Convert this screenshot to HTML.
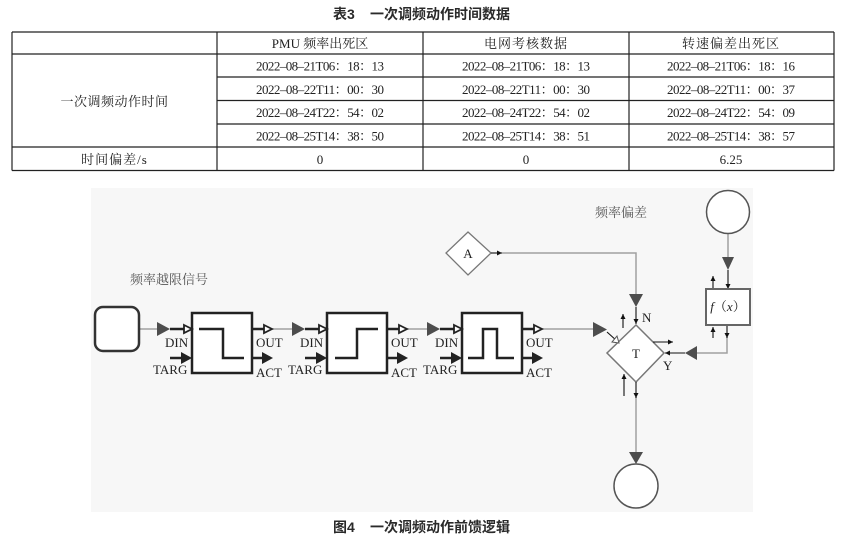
<!DOCTYPE html>
<html><head><meta charset="utf-8"><style>
html,body{margin:0;padding:0;background:#fff;}
svg{display:block;}
.t{font-family:"Liberation Serif","Noto Serif CJK SC",serif;font-size:13px;fill:#222;}
.cap{font-family:"Liberation Sans","Noto Sans CJK SC",sans-serif;font-size:14px;font-weight:bold;fill:#2a2a2a;}
.lbl{font-family:"Liberation Serif","Noto Serif CJK SC",serif;font-size:13px;fill:#222;}
.cn{font-family:"Liberation Serif","Noto Serif CJK SC",serif;font-size:13px;fill:#555;}
</style></head><body>
<svg width="844" height="546" viewBox="0 0 844 546" xmlns="http://www.w3.org/2000/svg">
<defs>
<marker id="sa" viewBox="0 0 6 6" refX="6" refY="3" markerWidth="5" markerHeight="5" orient="auto" markerUnits="userSpaceOnUse"><path d="M0,0 L6,3 L0,6 Z" fill="#111"/></marker>
</defs>
<!-- Title -->
<text class="cap" x="333" y="19">表3<tspan x="370">一次调频动作时间数据</tspan></text>
<!-- Table -->
<g stroke="#222" stroke-width="1.2">
<line x1="12" y1="32" x2="834" y2="32"/>
<line x1="12" y1="54" x2="834" y2="54"/>
<line x1="217" y1="77" x2="834" y2="77"/>
<line x1="217" y1="100.5" x2="834" y2="100.5"/>
<line x1="217" y1="124" x2="834" y2="124"/>
<line x1="12" y1="147" x2="834" y2="147"/>
<line x1="12" y1="170.5" x2="834" y2="170.5"/>
<line x1="12" y1="32" x2="12" y2="170.5"/>
<line x1="217" y1="32" x2="217" y2="170.5"/>
<line x1="423" y1="32" x2="423" y2="170.5"/>
<line x1="629" y1="32" x2="629" y2="170.5"/>
<line x1="834" y1="32" x2="834" y2="170.5"/>
</g>
<g class="t" text-anchor="middle">
<text x="320" y="48">PMU 频率出死区</text>
<text x="526" y="48" letter-spacing="1">电网考核数据</text>
<text x="731" y="48" letter-spacing="1">转速偏差出死区</text>
<text x="114.5" y="106" letter-spacing="0.5">一次调频动作时间</text>
<text x="114.5" y="164" letter-spacing="1">时间偏差/s</text>
<text x="320" y="164">0</text>
<text x="526" y="164">0</text>
<text x="731" y="164">6.25</text>
</g>
<g class="t">
<text x="256" y="70.5" textLength="128" lengthAdjust="spacing">2022–08–21T06：18：13</text>
<text x="256" y="94" textLength="128" lengthAdjust="spacing">2022–08–22T11：00：30</text>
<text x="256" y="117" textLength="128" lengthAdjust="spacing">2022–08–24T22：54：02</text>
<text x="256" y="140.5" textLength="128" lengthAdjust="spacing">2022–08–25T14：38：50</text>
<text x="462" y="70.5" textLength="128" lengthAdjust="spacing">2022–08–21T06：18：13</text>
<text x="462" y="94" textLength="128" lengthAdjust="spacing">2022–08–22T11：00：30</text>
<text x="462" y="117" textLength="128" lengthAdjust="spacing">2022–08–24T22：54：02</text>
<text x="462" y="140.5" textLength="128" lengthAdjust="spacing">2022–08–25T14：38：51</text>
<text x="667" y="70.5" textLength="128" lengthAdjust="spacing">2022–08–21T06：18：16</text>
<text x="667" y="94" textLength="128" lengthAdjust="spacing">2022–08–22T11：00：37</text>
<text x="667" y="117" textLength="128" lengthAdjust="spacing">2022–08–24T22：54：09</text>
<text x="667" y="140.5" textLength="128" lengthAdjust="spacing">2022–08–25T14：38：57</text>
</g>

<!-- Diagram background -->
<rect x="91" y="188" width="662" height="324" fill="#f7f7f7"/>

<text class="cn" x="130" y="284">频率越限信号</text>
<text class="cn" x="595" y="217">频率偏差</text>

<!-- gray connectors -->
<g stroke="#a0a0a0" stroke-width="1.5" fill="none">
<line x1="139" y1="329" x2="158" y2="329"/>
<line x1="272" y1="329" x2="293" y2="329"/>
<line x1="407" y1="329" x2="428" y2="329"/>
<line x1="542" y1="329" x2="594" y2="329"/>
<polyline points="502,253 636,253 636,295"/>
<line x1="636" y1="397" x2="636" y2="453"/>
<line x1="728" y1="233" x2="728" y2="258"/>
<polyline points="727,337 727,353 696,353"/>
</g>
<!-- gray triangles -->
<g fill="#4d4d4d">
<polygon points="157,322 170,329 157,336"/>
<polygon points="292,322 305,329 292,336"/>
<polygon points="427,322 440,329 427,336"/>
<polygon points="593,322 607,329.5 593,337"/>
<polygon points="629,294 643,294 636,307"/>
<polygon points="629,452 643,452 636,464"/>
<polygon points="722,257 734,257 728,270"/>
<polygon points="697,346 697,360 685,353"/>
</g>

<!-- start rounded rect -->
<rect x="95" y="307" width="44" height="44" rx="8" fill="#fff" stroke="#333" stroke-width="2.5"/>

<!-- Blocks -->
<g stroke="#222" stroke-width="2.5" fill="none">
<rect x="192" y="313" width="60" height="60" fill="#fff"/>
<path d="M199,329 H223 V358 H244"/>
<line x1="170" y1="329" x2="184" y2="329"/>
<line x1="170" y1="358" x2="183" y2="358"/>
<line x1="252" y1="329" x2="264" y2="329"/>
<line x1="252" y1="358" x2="264" y2="358"/>
<rect x="327" y="313" width="60" height="60" fill="#fff"/>
<path d="M335,358 H357 V329 H378"/>
<line x1="305" y1="329" x2="319" y2="329"/>
<line x1="305" y1="358" x2="318" y2="358"/>
<line x1="387" y1="329" x2="399" y2="329"/>
<line x1="387" y1="358" x2="399" y2="358"/>
<rect x="462" y="313" width="60" height="60" fill="#fff"/>
<path d="M468,358 H483 V329 H497 V358 H514"/>
<line x1="440" y1="329" x2="454" y2="329"/>
<line x1="440" y1="358" x2="453" y2="358"/>
<line x1="522" y1="329" x2="534" y2="329"/>
<line x1="522" y1="358" x2="534" y2="358"/>
</g>
<!-- open arrowheads -->
<g fill="#fff" stroke="#222" stroke-width="1.8">
<polygon points="184,325 192,329 184,333"/>
<polygon points="264,325 272,329 264,333"/>
<polygon points="319,325 327,329 319,333"/>
<polygon points="399,325 407,329 399,333"/>
<polygon points="454,325 462,329 454,333"/>
<polygon points="534,325 542,329 534,333"/>
</g>
<!-- filled arrowheads -->
<g fill="#222">
<polygon points="181,352 192,358 181,364"/>
<polygon points="262,352 273,358 262,364"/>
<polygon points="316,352 327,358 316,364"/>
<polygon points="397,352 408,358 397,364"/>
<polygon points="451,352 462,358 451,364"/>
<polygon points="532,352 543,358 532,364"/>
</g>
<!-- labels -->
<g class="lbl">
<text x="165" y="347">DIN</text><text x="153" y="374">TARG</text>
<text x="256" y="347">OUT</text><text x="256" y="377">ACT</text>
<text x="300" y="347">DIN</text><text x="288" y="374">TARG</text>
<text x="391" y="347">OUT</text><text x="391" y="377">ACT</text>
<text x="435" y="347">DIN</text><text x="423" y="374">TARG</text>
<text x="526" y="347">OUT</text><text x="526" y="377">ACT</text>
</g>

<!-- Diamond T -->
<polygon points="636,325 664,353 636,382 607,353" fill="#fff" stroke="#777" stroke-width="1.5"/>
<text class="lbl" x="636" y="358" text-anchor="middle" font-size="12">T</text>
<text class="lbl" x="642" y="322">N</text>
<text class="lbl" x="663" y="370">Y</text>
<!-- A diamond -->
<polygon points="468,232 491,253 468,275 446,253" fill="#fff" stroke="#777" stroke-width="1.3"/>
<text class="lbl" x="468" y="258" text-anchor="middle" font-size="12">A</text>

<!-- small black arrows -->
<g stroke="#111" stroke-width="1.1" fill="none">
<line x1="491" y1="253" x2="502" y2="253" marker-end="url(#sa)"/>
<line x1="636" y1="307" x2="636" y2="324" marker-end="url(#sa)"/>
<line x1="623" y1="328" x2="623" y2="314" marker-end="url(#sa)"/>
<line x1="653" y1="342" x2="673" y2="342" marker-end="url(#sa)"/>
<line x1="624" y1="396" x2="624" y2="374" marker-end="url(#sa)"/>
<line x1="636" y1="382" x2="636" y2="398" marker-end="url(#sa)"/>
<line x1="728" y1="270" x2="728" y2="289" marker-end="url(#sa)"/>
<line x1="713" y1="288" x2="713" y2="276" marker-end="url(#sa)"/>
<line x1="713" y1="338" x2="713" y2="327" marker-end="url(#sa)"/>
<line x1="727" y1="325" x2="727" y2="338" marker-end="url(#sa)"/>
<line x1="685" y1="353" x2="665" y2="353" marker-end="url(#sa)"/>
<line x1="607" y1="332" x2="617" y2="341"/>
</g>
<polygon points="612,342 619,343 617,336" fill="#fff" stroke="#555" stroke-width="1"/>

<!-- f(x) box -->
<rect x="706" y="289" width="44" height="36" fill="#fff" stroke="#666" stroke-width="2"/>
<text class="lbl" x="728" y="311" text-anchor="middle" font-size="13"><tspan font-style="italic">f</tspan>（<tspan font-style="italic">x</tspan>）</text>

<!-- circles -->
<circle cx="728" cy="212" r="21.5" fill="#fff" stroke="#555" stroke-width="1.5"/>
<circle cx="636" cy="486" r="22" fill="#fff" stroke="#555" stroke-width="1.5"/>

<!-- Figure caption -->
<text class="cap" x="333" y="532">图4<tspan x="370">一次调频动作前馈逻辑</tspan></text>
</svg>
</body></html>
